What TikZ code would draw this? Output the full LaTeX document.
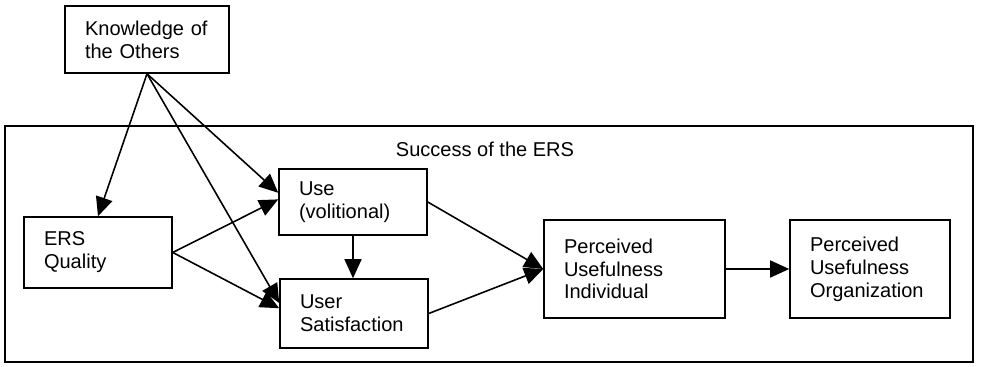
\documentclass[tikz,border=0pt]{standalone}
\usepackage{fontspec}
\setmainfont{Liberation Sans}
\usetikzlibrary{arrows.meta}

\tikzset{
  box/.style={draw, line width=0.9pt, inner xsep=0.4cm, align=left, fill=white},
  link/.style={black, line width=0.9pt, -{Triangle[length=0.38cm, width=0.34cm]}}
}

\begin{document}
\begin{tikzpicture}[x=0.02cm, y=-0.02cm, font=\fontsize{11.4}{13}\selectfont]
  \useasboundingbox (0,0) rectangle (981,367);
  \node[draw, line width=0.9pt, minimum width=19.36cm, minimum height=4.72cm] (ers) at (489,244) {};
  \node (title) at (485,149) {Success of the ERS};
  \node[box, text width=2.48cm, minimum height=1.34cm] (K) at (147,39.5) {Knowledge of\\the Others};
  \node[box, text width=2.16cm, minimum height=1.42cm] (E) at (98,252.5) {ERS\\Quality};
  \node[box, text width=2.16cm, minimum height=1.32cm] (U) at (353,202) {Use\\(volitional)};
  \node[box, text width=2.16cm, minimum height=1.38cm] (S) at (354,313.5) {User\\Satisfaction};
  \node[box, text width=2.82cm, minimum height=1.96cm] (P) at (634.5,269) {Perceived\\Usefulness\\Individual};
  \node[box, text width=2.40cm, minimum height=1.96cm] (O) at (870,269) {Perceived\\Usefulness\\Organization};
  \draw[link] (K.south) -- (E.north);
  \draw[link] (K.south) -- (U.173);
  \draw[link] (K.south) -- (S.172);
  \draw[link] (E.east) -- (U.178);
  \draw[link] (E.east) -- (S.176);
  \draw[link] (U.south) -- (U.south |- S.north);
  \draw[link] (U.east) -- (P.west);
  \draw[link] (S.east) -- (P.west);
  \draw[link] (P.east) -- (O.west);
\end{tikzpicture}
\end{document}
